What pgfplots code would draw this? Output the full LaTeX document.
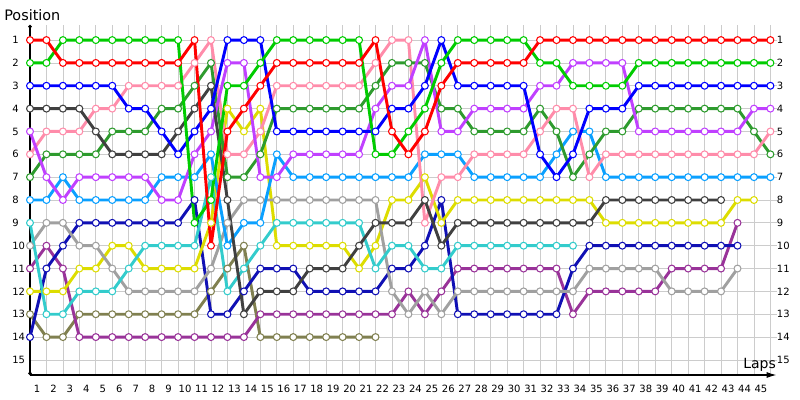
\documentclass[border=0pt]{standalone}
\usepackage{fontspec}
\setmainfont{DejaVu Sans}
\usepackage{pgfplots}
\usepackage{pgfplotstable}
\pgfplotsset{compat=1.18}
\usetikzlibrary{arrows.meta}

\definecolor{cRed}{HTML}{FF0000}
\definecolor{cGreen}{HTML}{00CC00}
\definecolor{cBlue}{HTML}{0000FF}
\definecolor{cBlack}{HTML}{404040}
\definecolor{cViolet}{HTML}{C040FF}
\definecolor{cPink}{HTML}{FF8CAA}
\definecolor{cDkGreen}{HTML}{2E9B2E}
\definecolor{cAzure}{HTML}{0AA0FF}
\definecolor{cCyan}{HTML}{33CCCC}
\definecolor{cGray}{HTML}{A0A0A0}
\definecolor{cPlum}{HTML}{993399}
\definecolor{cYellow}{HTML}{DDDD00}
\definecolor{cNavy}{HTML}{1010B4}
\definecolor{cOlive}{HTML}{808050}

\newcommand\tlfont{\fontsize{7.5pt}{9pt}\selectfont}

\pgfplotsset{drv/.style={color=#1, line width=2.2pt, line join=round,
    mark=*, mark size=2.6pt,
    mark options={fill=white, draw=#1, line width=0.8pt, solid}}}

% position of every driver after each lap (nan = out of the race)
\pgfplotstableread{
lap red green blue black violet pink dkgreen azure cyan gray plum yellow navy olive
0  1  2  3  4  5  6  7  8  9  10 11 12 14 13
1  1  2  3  4  7  5  6  8  13 9  10 12 11 14
2  2  1  3  4  8  5  6  7  13 9  11 12 10 14
3  2  1  3  4  7  5  6  8  12 10 14 11 9  13
4  2  1  3  5  7  4  6  8  12 10 14 11 9  13
5  2  1  3  6  7  4  5  8  12 11 14 10 9  13
6  2  1  4  6  7  3  5  8  11 12 14 10 9  13
7  2  1  4  6  7  3  5  8  10 12 14 11 9  13
8  2  1  5  6  8  3  4  7  10 12 14 11 9  13
9  2  1  6  5  8  3  4  7  10 12 14 11 9  13
10 1  9  5  4  6  2  3  7  10 12 14 11 8  13
11 10 8  4  3  5  1  2  6  7  11 14 9  13 12
12 5  3  1  8  2  6  7  10 12 9  14 4  13 11
13 4  3  1  13 2  6  7  9  11 8  14 5  12 10
14 3  2  1  12 7  5  6  9  10 8  13 4  11 14
15 2  1  5  12 7  3  4  6  9  8  13 10 11 14
16 2  1  5  12 6  3  4  7  9  8  13 10 11 14
17 2  1  5  11 6  3  4  7  9  8  13 10 12 14
18 2  1  5  11 6  3  4  7  9  8  13 10 12 14
19 2  1  5  11 6  3  4  7  9  8  13 10 12 14
20 2  1  5  10 6  3  4  7  9  8  13 11 12 14
21 1  6  5  9  4  2  3  7  11 8  13 10 12 14
22 5  6  4  9  3  1  2  7  10 12 13 8  11 nan
23 6  5  4  9  3  1  2  7  10 13 12 8  11 nan
24 5  4  3  8  1  9  2  6  11 12 13 7  10 nan
25 3  2  1  10 5  7  4  6  11 13 12 9  8  nan
26 2  1  3  9  5  7  4  6  10 12 11 8  13 nan
27 2  1  3  9  4  6  5  7  10 12 11 8  13 nan
28 2  1  3  9  4  6  5  7  10 12 11 8  13 nan
29 2  1  3  9  4  6  5  7  10 12 11 8  13 nan
30 2  1  3  9  4  6  5  7  10 12 11 8  13 nan
31 1  2  6  9  3  5  4  7  10 12 11 8  13 nan
32 1  2  7  9  3  4  5  6  10 12 11 8  13 nan
33 1  3  6  9  2  4  7  5  10 12 13 8  11 nan
34 1  3  4  9  2  7  6  5  nan 11 12 8  10 nan
35 1  3  4  8  2  6  5  7  nan 11 12 9  10 nan
36 1  3  4  8  2  6  5  7  nan 11 12 9  10 nan
37 1  2  3  8  5  6  4  7  nan 11 12 9  10 nan
38 1  2  3  8  5  6  4  7  nan 11 12 9  10 nan
39 1  2  3  8  5  6  4  7  nan 12 11 9  10 nan
40 1  2  3  8  5  6  4  7  nan 12 11 9  10 nan
41 1  2  3  8  5  6  4  7  nan 12 11 9  10 nan
42 1  2  3  8  5  6  4  7  nan 12 11 9  10 nan
43 1  2  3  nan 5 6  4  7  nan 11 9  8  10 nan
44 1  2  3  nan 4 6  5  7  nan nan nan 8 nan nan
45 1  2  3  nan 4 5  6  7  nan nan nan nan nan nan
}\laps

\begin{document}
\begin{tikzpicture}
\path[use as bounding box] (-22.5pt,-18.75pt) rectangle (577.5pt,281.25pt);
\begin{axis}[
    at={(0,0)}, anchor=south west,
    scale only axis,
    width=560pt, height=262.5pt,
    xmin=0, xmax=45.38,
    ymin=0.34, ymax=15.66,
    y dir=reverse,
    clip=false,
    unbounded coords=jump,
    axis x line=bottom,
    axis y line=left,
    x axis line style={line width=1pt, -{Latex[length=7.5pt,width=4.5pt]}},
    y axis line style={line width=1pt, {Circle[length=2.5pt]}-{Circle[length=2.5pt]}},
    xtick={0,...,45},
    ytick={1,...,15},
    xticklabel={\pgfmathtruncatemacro\lap{\tick+1}\ifnum\lap<46 \lap\fi},
    yticklabel={\pgfmathtruncatemacro\pos{\tick}\pos},
    xticklabel style={font=\tlfont, anchor=north, inner sep=0pt, xshift=5.25pt, yshift=-7.7pt},
    yticklabel style={font=\tlfont, anchor=west, inner sep=0pt, xshift=-13.5pt},
    major tick length=0pt,
    grid=major,
    grid style={line width=0.6pt, draw=black!20},
]
\addplot[drv=cOlive] table[x=lap, y=olive] {\laps};
\addplot[drv=cPlum] table[x=lap, y=plum] {\laps};
\addplot[drv=cNavy] table[x=lap, y=navy] {\laps};
\addplot[drv=cYellow] table[x=lap, y=yellow] {\laps};
\addplot[drv=cGray] table[x=lap, y=gray] {\laps};
\addplot[drv=cCyan] table[x=lap, y=cyan] {\laps};
\addplot[drv=cAzure] table[x=lap, y=azure] {\laps};
\addplot[drv=cDkGreen] table[x=lap, y=dkgreen] {\laps};
\addplot[drv=cPink] table[x=lap, y=pink] {\laps};
\addplot[drv=cViolet] table[x=lap, y=violet] {\laps};
\addplot[drv=cBlack] table[x=lap, y=black] {\laps};
\addplot[drv=cBlue] table[x=lap, y=blue] {\laps};
\addplot[drv=cGreen] table[x=lap, y=green] {\laps};
\addplot[drv=cRed] table[x=lap, y=red] {\laps};
\pgfplotsinvokeforeach{1,...,15}{
  \node[anchor=west, inner sep=0pt, font=\tlfont] at (axis cs:45.38,#1) {#1};
}
\end{axis}
\node[anchor=base west, inner sep=0pt, font=\fontsize{10.8pt}{13pt}\selectfont] at (-19.5pt,265.5pt) {Position};
\node[anchor=base west, inner sep=0pt, font=\fontsize{10.5pt}{13pt}\selectfont] at (534.75pt,5.25pt) {Laps};
\end{tikzpicture}
\end{document}
